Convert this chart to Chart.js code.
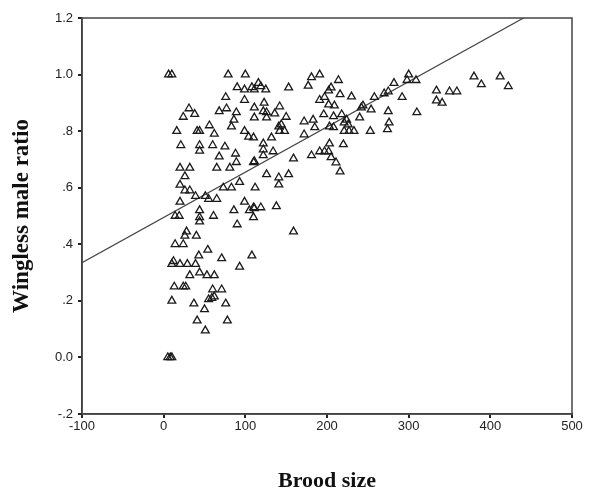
<!DOCTYPE html>
<html>
<head>
<meta charset="utf-8">
<script src="https://cdn.jsdelivr.net/npm/chart.js@4"></script>
<style>
  html, body {margin: 0; padding: 0; background: #fff;}
  #plot {display: block;}
</style>
</head>
<body>
<canvas id="plot" width="599" height="492"></canvas>
<script>
// brood size (x) and wingless male ratio (y)
const broodSize = [
  6, 10, 5, 8, 10,
  14, 24, 10, 12, 20, 29, 39, 43,
  10, 13, 24, 27, 37, 41,
  14, 19, 28, 26, 40, 32,
  44, 53, 62, 54, 71, 108, 93,
  60, 71, 55, 59, 62, 76, 50, 78, 51,
  44, 44, 44, 61, 86, 90, 105,
  79, 100, 90, 99, 108, 76, 99,
  31, 24, 38, 68, 77, 89, 86, 83, 56,
  16, 41, 44, 62, 99, 104,
  21, 44, 44, 60, 75, 88, 68, 89, 110,
  20, 32, 26, 65, 81,
  20, 32, 26, 39, 51, 55, 73, 83, 93, 65, 20,
  99, 110, 110,
  191, 181, 177, 214, 205, 202,
  116, 111, 119, 125, 153, 216, 191, 197,
  123, 122, 142, 111, 111, 126, 126, 136,
  196, 208, 202, 209, 150,
  172, 183, 185, 141, 144, 148, 142,
  218, 224, 226, 221, 203, 208,
  172, 132, 110, 122, 122, 122, 134,
  203, 202, 205, 211, 216, 220,
  181, 191, 197, 159, 111,
  126, 141, 141, 153, 112, 111, 119, 138, 159,
  300, 298, 309, 282, 270, 275, 258, 292, 230,
  242, 244, 254, 240, 221, 227, 233,
  275, 310, 276, 274, 253,
  380, 389, 412, 422, 334, 350, 359, 334, 341
]
const winglessRatio = [
  1.0, 1.0, 0, 0, 0,
  0.40, 0.40, 0.33, 0.34, 0.33, 0.33, 0.33, 0.36,
  0.20, 0.25, 0.25, 0.25, 0.19, 0.13,
  0.50, 0.50, 0.445, 0.43, 0.43, 0.29,
  0.30, 0.29, 0.29, 0.38, 0.35, 0.36, 0.32,
  0.24, 0.24, 0.205, 0.21, 0.215, 0.19, 0.17, 0.13, 0.095,
  0.52, 0.495, 0.48, 0.50, 0.52, 0.47, 0.52,
  1.0, 1.0, 0.955, 0.947, 0.955, 0.92, 0.91,
  0.88, 0.85, 0.86, 0.87, 0.88, 0.866, 0.84, 0.816, 0.82,
  0.80, 0.80, 0.80, 0.79, 0.80, 0.78,
  0.75, 0.75, 0.73, 0.75, 0.745, 0.72, 0.71, 0.69, 0.69,
  0.67, 0.67, 0.64, 0.67, 0.67,
  0.61, 0.59, 0.59, 0.57, 0.57, 0.56, 0.60, 0.60, 0.62, 0.56, 0.55,
  0.55, 0.53, 0.495,
  1.0, 0.99, 0.96, 0.98, 0.954, 0.943,
  0.97, 0.947, 0.958, 0.947, 0.954, 0.93, 0.91, 0.92,
  0.90, 0.87, 0.887, 0.883, 0.848, 0.866, 0.848, 0.862,
  0.859, 0.852, 0.894, 0.89, 0.85,
  0.834, 0.84, 0.813, 0.816, 0.823, 0.80, 0.80,
  0.859, 0.84, 0.823, 0.80, 0.816, 0.813,
  0.788, 0.777, 0.777, 0.756, 0.735, 0.714, 0.728,
  0.756, 0.728, 0.707, 0.689, 0.657, 0.753,
  0.714, 0.728, 0.728, 0.703, 0.693,
  0.647, 0.636, 0.611, 0.647, 0.60, 0.527, 0.53, 0.534, 0.445,
  1.0, 0.98, 0.98, 0.97, 0.933, 0.94, 0.92, 0.92, 0.922,
  0.883, 0.89, 0.876, 0.848, 0.83, 0.80, 0.80,
  0.87, 0.866, 0.83, 0.806, 0.80,
  0.993, 0.965, 0.993, 0.958, 0.943, 0.94, 0.94, 0.908, 0.90
]
// fitted line, y = a + b*x
const fitIntercept = 0.495
const fitSlope = 0.0016
const fitX = [-100, 500]

const xTicks = [-100, 0, 100, 200, 300, 400, 500]

const points = broodSize.map((x, i) => ({x: x, y: winglessRatio[i]}))
const fitLine = fitX.map(x => ({x: x, y: fitIntercept + fitSlope * x}))

// SPSS style labels: 1.0, .8, 0.0, -.2
function spssLabel(v) {
  const r = Math.round(v * 10) / 10
  if (r === 0) return '0.0'
  if (Math.abs(r) >= 1) return r.toFixed(1)
  return r.toFixed(1).replace('0.', '.')
}

const frame = {
  id: 'frame',
  afterDatasetsDraw(chart) {
    const a = chart.chartArea
    const ctx = chart.ctx
    ctx.save()
    ctx.strokeStyle = '#444'
    ctx.lineWidth = 1.5
    ctx.strokeRect(a.left, a.top, a.right - a.left, a.bottom - a.top)
    ctx.restore()
  }
}

new Chart(document.getElementById('plot'), {
  type: 'scatter',
  data: {
    datasets: [
      {
        data: points,
        pointStyle: 'triangle',
        pointRadius: 4.5,
        pointBorderWidth: 1.3,
        pointBorderColor: '#1a1a1a',
        pointBackgroundColor: 'rgba(255,255,255,0)',
      },
      {
        type: 'line',
        data: fitLine,
        borderColor: '#444',
        borderWidth: 1.2,
        pointRadius: 0,
        fill: false,
        tension: 0,
      }
    ]
  },
  options: {
    responsive: false,
    animation: false,
    devicePixelRatio: 1,
    layout: {padding: {left: 0, right: 27, top: 18, bottom: 0}},
    plugins: {legend: {display: false}, tooltip: {enabled: false}},
    scales: {
      x: {
        type: 'linear',
        min: -100,
        max: 500,
        afterFit: s => { s.height = 78 },
        afterBuildTicks: s => { s.ticks = xTicks.map(v => ({value: v})) },
        grid: {drawOnChartArea: false, drawTicks: true, tickLength: 4, color: '#222', lineWidth: 2},
        border: {display: true, color: '#333', width: 1.5},
        ticks: {color: '#222', padding: 1, maxRotation: 0, font: {family: 'Liberation Sans', size: 13}},
        title: {display: true, text: 'Brood size', color: '#111', padding: {top: 0, bottom: 0},
          font: {family: 'Liberation Serif', size: 22, weight: 'bold', lineHeight: 1}}
      },
      y: {
        type: 'linear',
        min: -0.2,
        max: 1.2,
        afterFit: s => { s.width = 82 },
        grid: {drawOnChartArea: false, drawTicks: true, tickLength: 4, color: '#222', lineWidth: 2},
        border: {display: true, color: '#333', width: 1.5},
        ticks: {stepSize: 0.2, color: '#222', padding: 5, callback: v => spssLabel(v),
          font: {family: 'Liberation Sans', size: 13}},
        title: {display: true, text: 'Wingless male ratio', color: '#111', padding: {top: 8, bottom: 0},
          font: {family: 'Liberation Serif', size: 23, weight: 'bold', lineHeight: 1.2}}
      }
    }
  },
  plugins: [frame]
})
</script>
</body>
</html>
